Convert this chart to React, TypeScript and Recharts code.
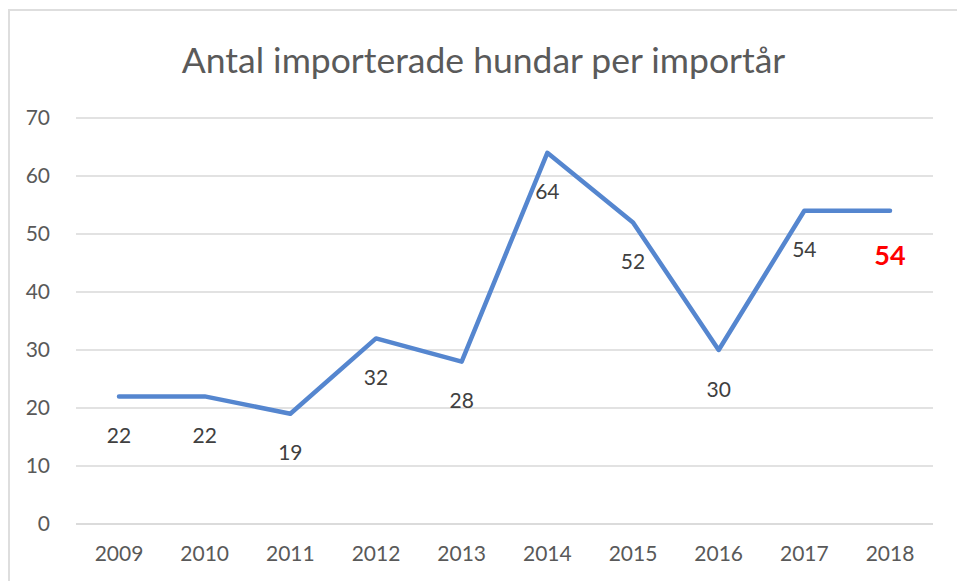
import { LineChart, Line, XAxis, YAxis, CartesianGrid, LabelList } from "recharts";

const years = ["2009", "2010", "2011", "2012", "2013", "2014", "2015", "2016", "2017", "2018"];
const dogs = [22, 22, 19, 32, 28, 64, 52, 30, 54, 54];
const yTicks = [0, 10, 20, 30, 40, 50, 60, 70];

const data = years.map((year, i) => ({ year, dogs: dogs[i] }));

const FONT = "Lato, 'Open Sans', sans-serif";

const renderLabel = (props: any) => {
  const { x, y, value, index } = props;
  const last = index === dogs.length - 1;
  return (
    <text
      x={x}
      y={y + (last ? 44 : 38)}
      textAnchor="middle"
      dominantBaseline="central"
      fontFamily={FONT}
      fontSize={last ? 27 : 21}
      fontWeight={last ? "bold" : "normal"}
      fill={last ? "#ff0000" : "#404040"}
    >
      {value}
    </text>
  );
};

export default function App() {
  return (
    <div
      style={{
        position: "absolute",
        left: 8,
        top: 9,
        width: 949,
        height: 572,
        borderTop: "2px solid #dedede",
        borderLeft: "2px solid #dedede",
        boxSizing: "border-box",
        background: "#fff",
      }}
    >
      <div
        style={{
          position: "absolute",
          left: 0,
          right: 0,
          top: 25,
          textAlign: "center",
          fontFamily: FONT,
          fontSize: 35.5,
          lineHeight: "48px",
          color: "#5a5a5a",
        }}
      >
        Antal importerade hundar per importår
      </div>
      <LineChart
        width={947}
        height={570}
        data={data}
        margin={{ top: 107, right: 24, bottom: 0, left: 0 }}
      >
        <CartesianGrid vertical={false} stroke="#d9d9d9" strokeWidth={1.5} />
        <XAxis
          dataKey="year"
          padding={{ left: 43, right: 43 }}
          axisLine={{ stroke: "#d9d9d9", strokeWidth: 1.5 }}
          tickLine={false}
          tickSize={0}
          tickMargin={22}
          height={57}
          tick={{ fill: "#595959", fontSize: 21, fontFamily: FONT }}
        />
        <YAxis
          domain={[0, 70]}
          ticks={yTicks}
          axisLine={false}
          tickLine={false}
          tickSize={0}
          tickMargin={26}
          width={66}
          tick={{ fill: "#595959", fontSize: 21, fontFamily: FONT }}
        />
        <Line
          type="linear"
          dataKey="dogs"
          stroke="#5586cf"
          strokeWidth={4.5}
          strokeLinecap="round"
          strokeLinejoin="round"
          dot={false}
          activeDot={false}
          isAnimationActive={false}
        >
          <LabelList dataKey="dogs" content={renderLabel} />
        </Line>
      </LineChart>
    </div>
  );
}
